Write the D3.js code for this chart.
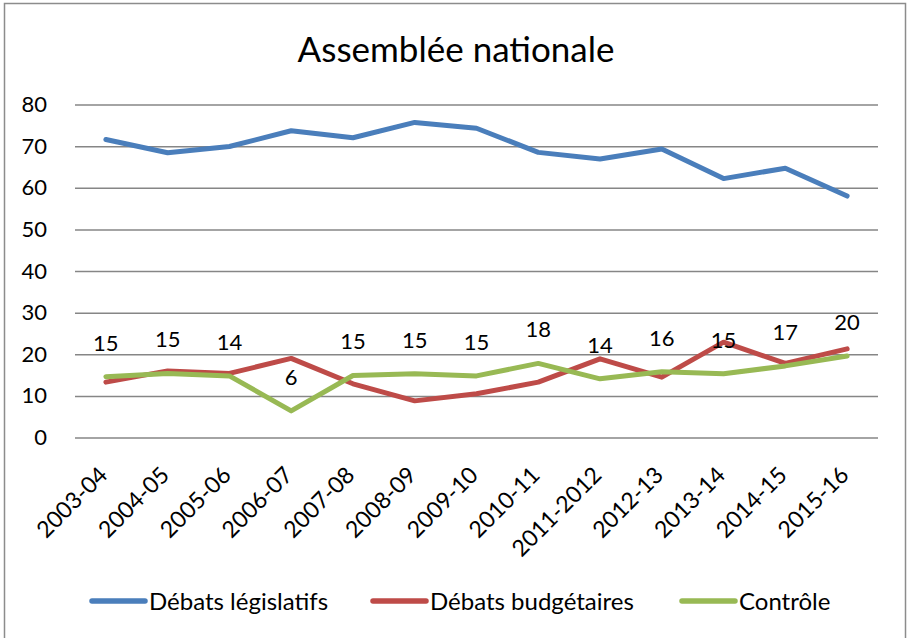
<!DOCTYPE html>
<html>
<head>
<meta charset="utf-8">
<script src="https://cdn.jsdelivr.net/npm/d3@7"></script>
<style>
  body { margin: 0; background: #fff; }
  text { font-family: Lato, "Open Sans", sans-serif; fill: #000; }
</style>
</head>
<body>
<script>
// years on the x axis
var years = ["2003-04", "2004-05", "2005-06", "2006-07", "2007-08", "2008-09", "2009-10",
             "2010-11", "2011-2012", "2012-13", "2013-14", "2014-15", "2015-16"];

var legislatifs = [71.6, 68.4, 69.9, 73.7, 72.0, 75.7, 74.3, 68.5, 66.9, 69.3, 62.2, 64.7, 58.0];
var budgetaires = [13.3, 16.0, 15.4, 19.0, 12.9, 8.8, 10.5, 13.3, 18.9, 14.5, 22.9, 17.8, 21.3];
var controle    = [14.6, 15.4, 14.8, 6.4, 14.9, 15.3, 14.8, 17.8, 14.1, 15.8, 15.3, 17.2, 19.6];
var controleLabels = [15, 15, 14, 6, 15, 15, 15, 18, 14, 16, 15, 17, 20];

var seriesNames = ["Débats législatifs", "Débats budgétaires", "Contrôle"];
var colors = ["#4a7ebb", "#be4b48", "#98b954"];
var yTicks = [0, 10, 20, 30, 40, 50, 60, 70, 80];

function createLineChart() {
    var w = 907, h = 638;
    var left = 75, right = 878, top = 104.5, bottom = 437.5;

    var svg = d3.select("body").append("svg")
        .attr("width", w)
        .attr("height", h);

    // chart frame
    svg.append("rect")
        .attr("x", 4.5).attr("y", 3.5)
        .attr("width", 901).attr("height", 660)
        .style("fill", "none")
        .style("stroke", "#8c8c8c")
        .style("stroke-width", 1.5);

    svg.append("text")
        .attr("x", 456).attr("y", 62)
        .attr("text-anchor", "middle")
        .style("font-size", "35px")
        .text("Assemblée nationale");

    var x = d3.scaleBand().domain(years).range([left, right]).padding(0);
    var y = d3.scaleLinear().domain([0, 80]).range([bottom, top]);
    var cx = function(d, i) { return x(years[i]) + x.bandwidth() / 2; };

    // grid + y labels
    var yAxis = svg.append("g")
        .attr("transform", "translate(" + left + ",0)")
        .call(d3.axisLeft(y).tickValues(yTicks).tickSize(-(right - left)).tickPadding(28));
    yAxis.select(".domain").remove();
    yAxis.selectAll("line").style("stroke", "#868686").style("stroke-width", 1.5);
    yAxis.selectAll("text")
        .style("font-size", "22px")
        .style("font-family", "Lato, sans-serif")
        .attr("fill", "#000");

    // x labels
    var xAxis = svg.append("g")
        .attr("transform", "translate(0," + bottom + ")")
        .call(d3.axisBottom(x).tickSize(0));
    xAxis.select(".domain").remove();
    xAxis.selectAll("text")
        .style("font-size", "23px")
        .style("font-family", "Lato, sans-serif")
        .attr("fill", "#000")
        .attr("text-anchor", "end")
        .attr("dy", 0)
        .attr("y", 0)
        .attr("transform", "translate(3,39) rotate(-45)");

    var line = d3.line().x(cx).y(function(d) { return y(d); });

    [legislatifs, budgetaires, controle].forEach(function(s, k) {
        svg.append("path")
            .datum(s)
            .attr("d", line)
            .style("fill", "none")
            .style("stroke", colors[k])
            .style("stroke-width", 5)
            .style("stroke-linejoin", "round")
            .style("stroke-linecap", "round");
    });

    // labels on Contrôle
    svg.selectAll(".lbl")
        .data(controle)
        .enter().append("text")
        .attr("class", "lbl")
        .attr("x", cx)
        .attr("y", function(d) { return y(d) - 26; })
        .attr("text-anchor", "middle")
        .style("font-size", "22px")
        .text(function(d, i) { return controleLabels[i]; });

    // legend
    var legX = [92, 373, 682];
    var leg = svg.selectAll(".leg")
        .data(seriesNames)
        .enter().append("g")
        .attr("transform", function(d, i) { return "translate(" + legX[i] + ",601)"; });
    leg.append("line")
        .attr("x1", 0).attr("x2", 53)
        .style("stroke", function(d, i) { return colors[i]; })
        .style("stroke-width", 5.5)
        .style("stroke-linecap", "round");
    leg.append("text")
        .attr("x", 57).attr("y", 8.5)
        .style("font-size", "24px")
        .text(function(d) { return d; });
}

createLineChart();
</script>
</body>
</html>
